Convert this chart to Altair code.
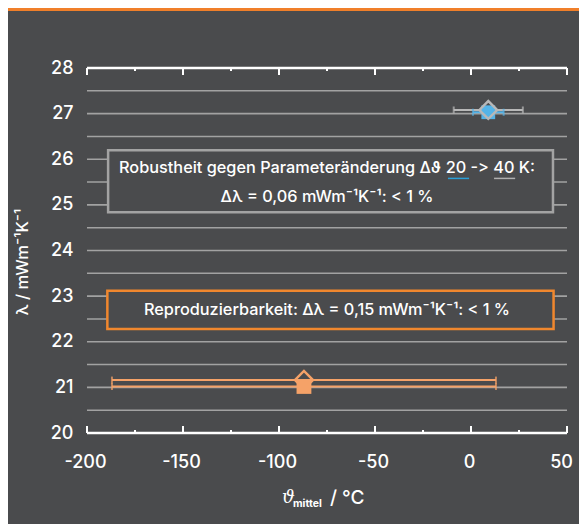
import altair as alt
import pandas as pd

# ---- data ----
marker = ["diamond", "square", "square", "diamond"]
group = ["orange", "orange", "blue", "gray"]
x_mean = [-87, -87, 9, 9]
y_val = [21.16, 21.02, 27.03, 27.08]
x_err = [100, 100, 8, 18]

x_major = [-200, -150, -100, -50, 0, 50]
x_minor = [-175, -125, -75, -25, 25]
y_labels = [20, 21, 22, 23, 24, 25, 26, 27, 28]
y_grid = [20.5, 21, 21.5, 22, 22.5, 23, 23.5, 24, 24.5, 25, 25.5, 26, 26.5, 27, 27.5]

box_name = ["robust", "repro"]
box_x1 = [-189, -189.4]
box_x2 = [42.7, 43]
box_y1 = [24.84, 22.28]
box_y2 = [26.2, 23.12]

text_lines = [
    "Robustheit gegen Parameteränderung Δϑ 20 -\u200c> 40 K:",
    "Δλ = 0,06 mWm⁻¹K⁻¹: < 1 %",
    "Reproduzierbarkeit: Δλ = 0,15 mWm⁻¹K⁻¹: < 1 %",
]
text_x = [-75, -75, -75]
text_y = [25.81, 25.17, 22.69]

underline_x1 = [-12, 12]
underline_x2 = [-1, 23]
underline_y = [25.58, 25.58]

BG = "#4a4b4d"
ORANGE = "#f5a268"
ORANGE_BOX = "#f0872e"
BLUE = "#55b4e8"
GRAY = "#b8b8b8"
GRAY_BOX = "#a3a3a3"
GRID = "#a2a2a2"
FONT = "Inter"

df = pd.DataFrame({"marker": marker, "group": group, "x": x_mean, "y": y_val, "err": x_err})
df["lo"] = df["x"] - df["err"]
df["hi"] = df["x"] + df["err"]

color_scale = alt.Scale(domain=["orange", "blue", "gray"], range=[ORANGE, BLUE, GRAY])

xs = alt.Scale(domain=[-200, 50], nice=False, zero=False)
ys = alt.Scale(domain=[20, 28], nice=False, zero=False)

base = alt.Chart(df)

x_axis = alt.Axis(
    values=x_major, domain=False, ticks=False, grid=False, labelColor="white",
    labelExpr="'' + datum.value", labelFlush=False,
    labelOffset={"condition": {"test": "datum.value == 50", "value": -6}, "value": -2},
    labelFont=FONT, labelFontSize=18, labelFontWeight=500, labelPadding=20, title=None,
)
y_axis = alt.Axis(
    values=y_labels, domain=False, ticks=False, grid=False,
    labelExpr="'' + datum.value", labelColor="white", labelFlush=False,
    labelFont=FONT, labelFontSize=18, labelFontWeight=500, labelPadding=14, title=None,
)

frame = alt.Chart(pd.DataFrame({"x": [-200], "y": [20]})).mark_point(opacity=0).encode(
    x=alt.X("x:Q", scale=xs, axis=x_axis),
    y=alt.Y("y:Q", scale=ys, axis=y_axis),
)

gdf = pd.DataFrame({"y": y_grid, "x1": [-200] * len(y_grid), "x2": [50] * len(y_grid)})
grid = alt.Chart(gdf).mark_rule(color=GRID, strokeWidth=1.6).encode(
    x=alt.X("x1:Q", scale=xs), x2="x2:Q", y=alt.Y("y:Q", scale=ys),
)

# annotation boxes
bdf = pd.DataFrame({"name": box_name, "x1": box_x1, "x2": box_x2, "y1": box_y1, "y2": box_y2})
boxes = alt.Chart(bdf).mark_rect(fill=BG, strokeWidth=2.5).encode(
    x=alt.X("x1:Q", scale=xs), x2="x2:Q",
    y=alt.Y("y1:Q", scale=ys), y2="y2:Q",
    stroke=alt.Stroke("name:N", scale=alt.Scale(domain=["robust", "repro"], range=[GRAY_BOX, ORANGE_BOX]), legend=None),
)
tdf = pd.DataFrame({"t": text_lines, "x": text_x, "y": text_y})
texts = alt.Chart(tdf).mark_text(color="white", font=FONT, fontSize=16.3, fontWeight=500, align="center", baseline="middle").encode(
    x=alt.X("x:Q", scale=xs), y=alt.Y("y:Q", scale=ys), text="t:N",
)
udf = pd.DataFrame({"x1": underline_x1, "x2": underline_x2, "y": underline_y})
ul_20 = alt.Chart(udf.iloc[[0]]).mark_rule(strokeWidth=1.5, color="#2a9fd8").encode(
    x=alt.X("x1:Q", scale=xs), x2="x2:Q", y=alt.Y("y:Q", scale=ys))
ul_40 = alt.Chart(udf.iloc[[1]]).mark_rule(strokeWidth=1.5, color="#b0b0b0").encode(
    x=alt.X("x1:Q", scale=xs), x2="x2:Q", y=alt.Y("y:Q", scale=ys))

# axis lines (top & bottom) and ticks
adf = pd.DataFrame({"y": [20, 28], "x1": [-200, -200], "x2": [50, 50]})
axis_lines = alt.Chart(adf).mark_rule(color="white", strokeWidth=2.5).encode(
    x=alt.X("x1:Q", scale=xs), x2="x2:Q", y=alt.Y("y:Q", scale=ys),
)
maj = pd.DataFrame({"x": x_major})
mnr = pd.DataFrame({"x": x_minor})
tick_bot = alt.Chart(maj).mark_rule(color="white", strokeWidth=2).encode(
    x=alt.X("x:Q", scale=xs), y=alt.value(365), y2=alt.value(358))
tick_top = alt.Chart(maj).mark_rule(color="white", strokeWidth=2).encode(
    x=alt.X("x:Q", scale=xs), y=alt.value(0), y2=alt.value(7))
mtick_bot = alt.Chart(mnr).mark_rule(color="white", strokeWidth=2).encode(
    x=alt.X("x:Q", scale=xs), y=alt.value(365), y2=alt.value(362))
mtick_top = alt.Chart(mnr).mark_rule(color="white", strokeWidth=2).encode(
    x=alt.X("x:Q", scale=xs), y=alt.value(0), y2=alt.value(3))

# error bars
ebar = base.mark_rule(strokeWidth=2).encode(
    x=alt.X("lo:Q", scale=xs), x2="hi:Q", y=alt.Y("y:Q", scale=ys),
    color=alt.Color("group:N", scale=color_scale, legend=None),
)
cap_lo = base.mark_tick(orient="vertical", size=7, thickness=2).encode(
    x=alt.X("lo:Q", scale=xs), y=alt.Y("y:Q", scale=ys),
    color=alt.Color("group:N", scale=color_scale, legend=None),
)
cap_hi = base.mark_tick(orient="vertical", size=7, thickness=2).encode(
    x=alt.X("hi:Q", scale=xs), y=alt.Y("y:Q", scale=ys),
    color=alt.Color("group:N", scale=color_scale, legend=None),
)

def sel(grp, shape):
    return base.transform_filter((alt.datum.group == grp) & (alt.datum.marker == shape))

enc = dict(x=alt.X("x:Q", scale=xs), y=alt.Y("y:Q", scale=ys))
o_dia = sel("orange", "diamond").mark_point(shape="diamond", filled=False, size=330, strokeWidth=2.4, opacity=1, color=ORANGE).encode(**enc)
o_sq = sel("orange", "square").mark_point(shape="square", filled=True, size=220, opacity=1, color=ORANGE).encode(**enc)
b_sq = sel("blue", "square").mark_point(shape="square", filled=True, size=190, opacity=1, color=BLUE).encode(**enc)
g_dia = sel("gray", "diamond").mark_point(shape="diamond", filled=False, size=320, strokeWidth=2.4, opacity=1, color=GRAY).encode(**enc)

# titles
one = pd.DataFrame({"a": [0]})
ytitle = alt.Chart(one).mark_text(text="λ / mWm⁻¹K⁻¹", angle=270, color="white", font=FONT, fontSize=16.5,
                                  fontWeight=500, align="center", baseline="middle").encode(
    x=alt.value(-64), y=alt.value(194))
xt1 = alt.Chart(one).mark_text(text="ϑ", color="white", font="DejaVu Serif", fontStyle="italic", fontSize=18,
                               align="left", baseline="alphabetic").encode(x=alt.value(195), y=alt.value(435))
xt2 = alt.Chart(one).mark_text(text="mittel", color="white", font=FONT, fontSize=10.5, fontWeight=700,
                               align="left", baseline="alphabetic").encode(x=alt.value(206), y=alt.value(439))
xt3 = alt.Chart(one).mark_text(text="/ °C", color="white", font=FONT, fontSize=19, fontWeight=500,
                               align="left", baseline="alphabetic").encode(x=alt.value(243), y=alt.value(436))

top_line = alt.Chart(one).mark_rule(color="#f07f2a", strokeWidth=3).encode(
    x=alt.value(-79), x2=alt.value(492), y=alt.value(-58.5))

chart = alt.layer(
    frame, grid, boxes, texts, ul_20, ul_40, ebar, cap_lo, cap_hi, o_dia, o_sq, b_sq, g_dia,
    axis_lines, tick_bot, tick_top, mtick_bot, mtick_top, ytitle, xt1, xt2, xt3, top_line,
).properties(
    width=480, height=365,
    autosize=alt.AutoSizeParams(type="none"),
    padding={"left": 79, "top": 60, "right": 12, "bottom": 91},
    background=BG,
).configure_view(stroke=None)

chart.save("out.html", embed_options={"renderer": "svg", "actions": False})
